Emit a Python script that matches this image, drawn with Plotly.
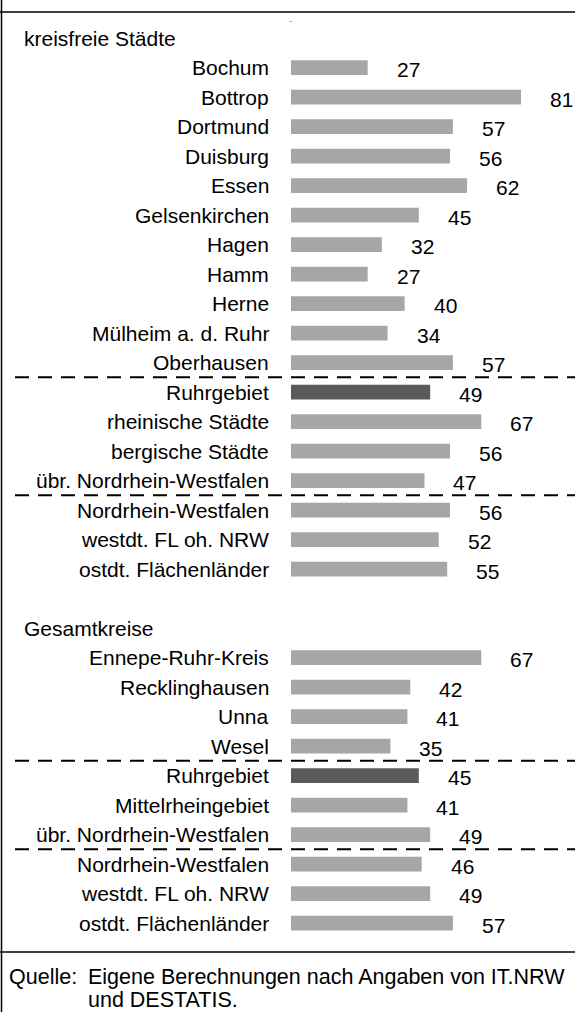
import plotly.graph_objects as go

# ---- data ----
kf_labels = ["Bochum", "Bottrop", "Dortmund", "Duisburg", "Essen", "Gelsenkirchen",
             "Hagen", "Hamm", "Herne", "Mülheim a. d. Ruhr", "Oberhausen",
             "Ruhrgebiet", "rheinische Städte", "bergische Städte",
             "übr. Nordrhein-Westfalen", "Nordrhein-Westfalen",
             "westdt. FL oh. NRW", "ostdt. Flächenländer"]
kf_values = [27, 81, 57, 56, 62, 45, 32, 27, 40, 34, 57, 49, 67, 56, 47, 56, 52, 55]

gk_labels = ["Ennepe-Ruhr-Kreis", "Recklinghausen", "Unna", "Wesel",
             "Ruhrgebiet", "Mittelrheingebiet", "übr. Nordrhein-Westfalen",
             "Nordrhein-Westfalen", "westdt. FL oh. NRW", "ostdt. Flächenländer"]
gk_values = [67, 42, 41, 35, 45, 41, 49, 46, 49, 57]

section_titles = ["kreisfreie Städte", "Gesamtkreise"]
highlight = "Ruhrgebiet"
source_label = "Quelle:"
source_lines = ["Eigene Berechnungen nach Angaben von IT.NRW", "und DESTATIS."]

# ---- layout constants ----
W, H = 575, 1012
FONT = "Liberation Sans, Arial, sans-serif"
FS = 21
FS_SRC = 21.5
ROW0_PX = 38.0      # pixel centre of first row (section title)
ROW_PX = 29.5       # pixel per row
BAR_X0_PX = 291.0   # pixel of value 0
PX_PER_UNIT = 2.84

kf_rows = list(range(1, 1 + len(kf_labels)))
gk_start = 1 + len(kf_labels) + 2
gk_rows = list(range(gk_start, gk_start + len(gk_labels)))
title_rows = [0, gk_start - 1]

labels = kf_labels + gk_labels
values = kf_values + gk_values
rows = kf_rows + gk_rows
colors = ["#5a5a5a" if l == highlight else "#a6a6a6" for l in labels]

fig = go.Figure(go.Bar(
    x=values, y=rows, orientation="h", width=0.5,
    marker=dict(color=colors, line=dict(width=0)),
    hoverinfo="skip",
))

x_min = -BAR_X0_PX / PX_PER_UNIT
x_max = (W - BAR_X0_PX) / PX_PER_UNIT
y_top = -ROW0_PX / ROW_PX
y_bot = (H - ROW0_PX) / ROW_PX

ann = []
for lab, v, r in zip(labels, values, rows):
    ann.append(dict(x=0, y=r, xref="x", yref="y", text=lab, showarrow=False,
                    xanchor="right", yanchor="middle", xshift=-20,
                    font=dict(family=FONT, size=FS, color="black")))
    ann.append(dict(x=v, y=r, xref="x", yref="y", text=str(v), showarrow=False,
                    xanchor="left", yanchor="middle", xshift=27, yshift=-2,
                    font=dict(family=FONT, size=FS, color="black")))
for t, r in zip(section_titles, title_rows):
    ann.append(dict(x=22 / W, y=r, xref="paper", yref="y", text=t, showarrow=False,
                    xanchor="left", yanchor="middle",
                    font=dict(family=FONT, size=FS, color="black")))

# source
ann.append(dict(x=7 / W, y=1 - 977 / H, xref="paper", yref="paper", text=source_label,
                showarrow=False, xanchor="left", yanchor="middle",
                font=dict(family=FONT, size=FS_SRC, color="black")))
for i, s in enumerate(source_lines):
    ann.append(dict(x=86 / W, y=1 - (977 + 23 * i) / H, xref="paper", yref="paper",
                    text=s, showarrow=False, xanchor="left", yanchor="middle",
                    font=dict(family=FONT, size=FS_SRC, color="black")))
# tiny grey mark at top
ann.append(dict(x=290 / W, y=1 - 21 / H, xref="paper", yref="paper", text="-",
                showarrow=False, xanchor="center", yanchor="middle",
                font=dict(family=FONT, size=10, color="#999999")))

shapes = []
# dashed separators
sep_rows = [kf_rows[10] + 0.5, kf_rows[14] + 0.5, gk_rows[3] + 0.5, gk_rows[6] + 0.5]
for s in sep_rows:
    shapes.append(dict(type="line", xref="paper", yref="y", x0=15 / W, x1=1, y0=s, y1=s,
                       line=dict(color="black", width=2, dash="14px,9px")))
# frame
shapes.append(dict(type="line", xref="paper", yref="paper", x0=1.5 / W, x1=1.5 / W, y0=0, y1=1,
                   line=dict(color="black", width=1.5)))
for py in [12, 952]:
    shapes.append(dict(type="line", xref="paper", yref="paper", x0=0, x1=1,
                       y0=1 - py / H, y1=1 - py / H, line=dict(color="black", width=1.5)))

fig.update_layout(
    width=W, height=H, margin=dict(l=0, r=0, t=0, b=0),
    paper_bgcolor="white", plot_bgcolor="white", showlegend=False,
    xaxis=dict(range=[x_min, x_max], visible=False, fixedrange=True),
    yaxis=dict(range=[y_bot, y_top], visible=False, fixedrange=True),
    annotations=ann, shapes=shapes,
)

fig.write_html("out.html")
